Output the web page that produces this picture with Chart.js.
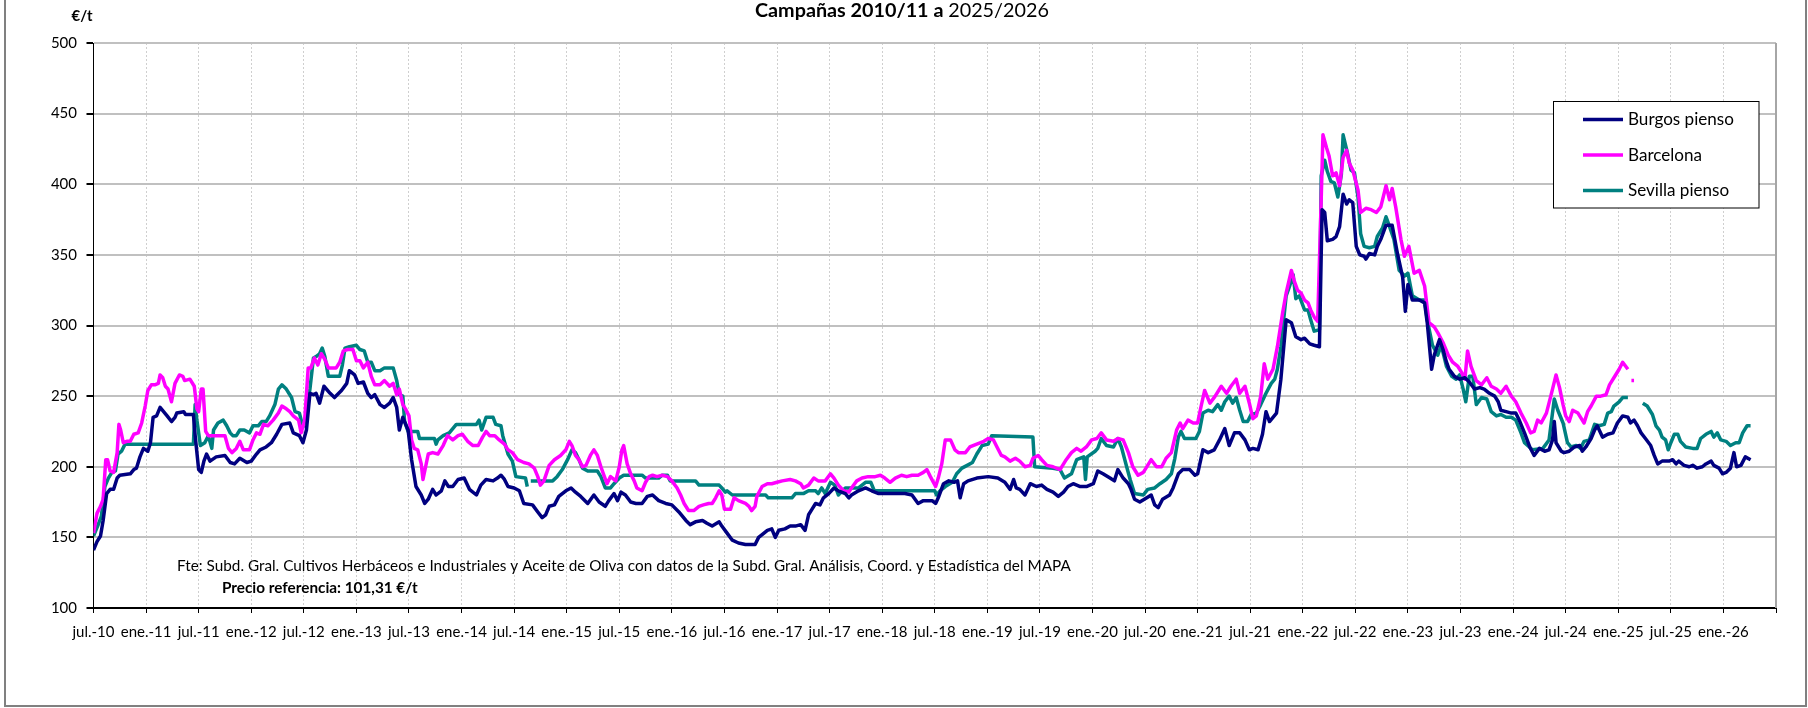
<!DOCTYPE html>
<html lang="es">
<head>
<meta charset="utf-8">
<title>Campañas 2010/11 a 2025/2026</title>
<script src="https://cdn.jsdelivr.net/npm/chart.js@4/dist/chart.umd.min.js"></script>
<style>
  html, body { margin: 0; padding: 0; background: #fff; }
  #wrap { width: 1808px; height: 708px; }
</style>
</head>
<body>
<div id="wrap"><canvas id="preciosChart" width="1808" height="708"></canvas></div>
<script>
// eje x en meses desde jul.-10 (0 = jul.-10, 6 = ene.-11, ...)
const xLabels = ['jul.-10','ene.-11','jul.-11','ene.-12','jul.-12','ene.-13','jul.-13','ene.-14','jul.-14','ene.-15',
  'jul.-15','ene.-16','jul.-16','ene.-17','jul.-17','ene.-18','jul.-18','ene.-19','jul.-19','ene.-20','jul.-20',
  'ene.-21','jul.-21','ene.-22','jul.-22','ene.-23','jul.-23','ene.-24','jul.-24','ene.-25','jul.-25','ene.-26'];
const yTicks = [100, 150, 200, 250, 300, 350, 400, 450, 500];

const seriesNames = ['Burgos pienso', 'Barcelona', 'Sevilla pienso'];
const seriesColors = ['#000080', '#ff00ff', '#008080'];

// [mes, €/t]
const burgos = [[0,141],[0.4,147],[0.8,151],[1.1,162],[1.5,181],[1.9,184],[2.3,184],[2.7,192],[3.0,194],[4.2,195],[4.6,198],[4.9,199],
  [5.3,207],[5.7,213],[6.2,211],[6.5,217],[6.8,235],[7.2,236],[7.6,242],[8.0,239],[8.4,236],[8.9,232],[9.3,235],[9.5,238],[10.3,239],
  [10.5,237],[11.4,237],[11.6,222],[12.0,198],[12.3,196],[12.6,204],[12.9,209],[13.3,204],[14.0,207],[15.0,208],[15.6,203],[16.1,202],
  [16.7,206],[17.5,203],[18.0,204],[18.6,209],[19.0,212],[19.7,214],[20.3,217],[20.9,223],[21.5,230],[22.4,231],[22.8,224],[23.5,222],
  [23.9,217],[24.3,226],[24.7,252],[25.1,251],[25.4,252],[25.8,245],[26.3,257],[27.0,252],[27.5,249],[28.3,254],[28.9,259],[29.2,268],
  [29.8,265],[30.2,259],[30.8,260],[31.3,252],[31.7,249],[32.1,251],[32.7,244],[33.2,242],[33.8,245],[34.2,249],[34.6,242],[34.9,226],
  [35.3,235],[35.9,226],[36.3,205],[36.8,186],[37.4,180],[37.8,174],[38.2,177],[38.7,184],[39.1,180],[39.7,183],[40.1,190],[40.5,186],
  [41.0,186],[41.6,191],[42.3,192],[42.9,184],[43.7,180],[44.2,187],[44.8,191],[45.6,190],[46.1,192],[46.5,194],[46.9,191],[47.3,186],
  [48.0,185],[48.6,183],[49.1,174],[50.1,173],[50.7,168],[51.2,164],[51.6,166],[52.0,172],[52.6,173],[53.1,179],[53.9,183],[54.5,185],
  [55.0,182],[55.6,179],[56.4,174],[57.1,180],[57.7,175],[58.4,172],[58.8,176],[59.4,181],[59.8,176],[60.2,182],[60.7,180],[61.3,175],
  [61.9,174],[62.6,174],[63.2,179],[63.8,180],[64.5,176],[65.3,174],[66.0,173],[66.8,168],[67.6,162],[68.1,159],[68.7,161],[69.5,162],
  [70.0,160],[70.6,158],[71.4,161],[71.7,158],[72.3,153],[72.9,148],[73.6,146],[74.4,145],[75.5,145],[75.9,150],[76.3,152],[76.9,155],
  [77.4,156],[77.8,150],[78.2,155],[78.9,156],[79.5,158],[80.1,158],[80.7,159],[81.2,155],[81.6,166],[82.0,170],[82.4,174],[82.9,173],
  [83.3,178],[83.9,181],[84.5,185],[85.0,183],[85.8,181],[86.2,178],[86.5,180],[87.3,183],[88.1,185],[88.8,183],[89.6,181],[91.5,181],
  [92.6,181],[93.4,180],[94.1,174],[94.7,176],[95.7,176],[96.1,174],[96.4,178],[97.0,188],[97.6,190],[98.2,189],[98.6,190],[98.9,178],
  [99.3,188],[99.8,190],[100.8,192],[102.1,193],[103.2,192],[104.0,189],[104.6,184],[105.0,191],[105.3,185],[105.7,184],[106.3,180],
  [106.9,188],[107.6,186],[108.2,187],[108.8,184],[109.5,182],[110.1,179],[110.7,182],[111.2,186],[111.8,188],[112.6,186],[113.3,186],
  [114.1,188],[114.6,197],[115.2,195],[116.0,192],[116.5,190],[116.9,198],[117.5,192],[118.1,188],[118.4,184],[118.8,177],[119.4,175],
  [120.2,178],[120.7,180],[121.1,173],[121.5,171],[122.0,177],[122.8,180],[123.2,185],[123.8,195],[124.3,198],[125.1,198],[125.7,194],
  [126.0,195],[126.6,212],[127.2,210],[127.9,212],[128.5,219],[129.1,227],[129.6,215],[130.2,224],[130.8,224],[131.4,219],[131.9,212],
  [132.3,213],[132.9,212],[133.4,223],[133.8,239],[134.2,232],[135.0,238],[135.5,262],[136.1,304],[136.7,302],[137.2,292],[137.8,290],
  [138.2,291],[138.8,287],[139.3,286],[139.9,285],[140.2,382],[140.5,380],[140.8,360],[141.4,361],[141.8,363],[142.2,370],[142.6,393],
  [143.0,386],[143.3,389],[143.7,387],[144.1,356],[144.5,350],[145.0,349],[145.2,347],[145.6,351],[146.2,350],[146.5,356],[146.9,361],
  [147.5,371],[148.2,371],[148.8,351],[149.4,334],[149.7,310],[150.0,329],[150.5,318],[151.3,318],[151.9,316],[152.2,302],[152.7,269],
  [153.0,279],[153.6,290],[154.0,283],[154.4,274],[154.7,269],[155.3,264],[155.9,262],[156.5,263],[157.0,260],[157.6,255],[158.2,256],
  [158.7,255],[159.3,252],[159.9,250],[160.3,246],[160.6,240],[161.2,239],[161.8,238],[162.3,238],[162.7,233],[163.3,224],[163.9,214],
  [164.4,208],[165.0,213],[165.6,211],[166.1,212],[166.5,219],[166.7,232],[166.9,217],[167.5,211],[167.8,210],[168.4,211],[169.0,214],
  [169.6,215],[169.9,211],[170.3,214],[170.9,220],[171.3,226],[171.6,229],[172.2,221],[172.8,223],[173.4,224],[173.9,231],[174.5,236],
  [175.1,235],[175.4,231],[175.8,233],[176.2,229],[176.6,224],[177.1,220],[177.7,215],[178.1,208],[178.5,202],[179.0,204],[179.8,204],
  [180.2,205],[180.6,202],[180.9,204],[181.5,201],[182.1,200],[182.5,201],[183.0,199],[183.6,200],[184.0,202],[184.6,204],[184.9,201],
  [185.5,199],[185.9,195],[186.3,196],[186.8,199],[187.2,210],[187.5,200],[188.0,201],[188.5,207],[189.1,205]];

const barcelona = [[0,153],[0.4,167],[0.8,172],[1.1,177],[1.4,205],[1.6,205],[1.9,197],[2.3,196],[2.7,210],[2.9,230],[3.1,226],[3.4,217],
  [3.8,218],[4.2,218],[4.6,223],[5.1,224],[5.5,231],[5.9,243],[6.2,254],[6.6,258],[7.0,258],[7.4,259],[7.6,265],[7.9,263],[8.2,257],
  [8.5,255],[8.9,246],[9.3,259],[9.8,265],[10.2,264],[10.4,261],[11.0,262],[11.5,257],[11.8,241],[12.0,239],[12.3,255],[12.5,255],
  [12.8,225],[13.1,222],[13.7,222],[14.4,222],[15.0,222],[15.4,213],[15.8,210],[16.3,213],[16.7,218],[17.1,212],[17.8,212],[18.2,219],
  [18.6,224],[19.0,223],[19.4,230],[19.9,229],[20.5,233],[21.1,238],[21.5,243],[22.0,241],[22.4,239],[22.8,236],[23.4,233],[23.7,224],
  [24.1,233],[24.5,270],[24.8,270],[25.2,277],[25.6,272],[26.0,280],[26.4,276],[26.8,270],[27.2,270],[27.7,270],[28.1,274],[28.5,282],
  [29.0,283],[29.6,283],[30.0,275],[30.4,275],[30.8,270],[31.3,274],[31.7,264],[32.1,258],[32.7,258],[33.2,261],[33.8,257],[34.2,259],
  [34.6,251],[34.9,255],[35.3,244],[35.6,241],[36.0,236],[36.3,219],[36.6,213],[37.0,212],[37.4,202],[37.6,191],[38.0,203],[38.2,209],
  [38.7,210],[39.3,209],[39.9,215],[40.4,222],[41.0,219],[41.6,222],[42.1,223],[42.7,218],[43.3,215],[43.9,215],[44.4,221],[44.8,225],
  [45.2,222],[45.8,222],[46.3,219],[46.9,216],[47.3,212],[47.8,210],[48.4,205],[49.1,203],[49.7,202],[50.3,199],[50.7,193],[51.0,187],
  [51.4,190],[52.0,201],[52.6,205],[53.3,208],[53.9,212],[54.3,218],[54.6,215],[55.0,208],[55.4,205],[55.8,200],[56.2,201],[56.7,208],
  [57.1,212],[57.5,208],[57.9,200],[58.3,193],[58.6,188],[59.0,193],[59.6,190],[60.0,200],[60.3,212],[60.5,215],[60.9,202],[61.3,195],
  [61.7,190],[62.0,185],[62.6,183],[63.0,189],[63.4,193],[63.8,194],[64.3,193],[64.9,194],[65.5,193],[66.0,190],[66.6,185],[67.0,180],
  [67.4,174],[67.9,169],[68.5,169],[69.1,172],[69.6,173],[70.2,174],[70.6,174],[71.0,178],[71.4,183],[71.7,180],[72.0,170],[72.7,170],
  [73.1,178],[73.6,176],[74.4,174],[74.8,172],[75.1,169],[75.5,172],[75.7,179],[76.3,186],[76.9,188],[77.4,188],[78.0,189],[78.6,190],
  [79.5,191],[80.1,190],[80.7,188],[81.0,185],[81.6,187],[82.2,192],[82.7,190],[83.5,190],[84.1,195],[84.5,192],[85.0,187],[85.6,183],
  [86.2,182],[86.5,185],[87.1,190],[87.7,192],[88.4,193],[89.2,193],[89.8,194],[90.3,192],[90.9,189],[91.5,192],[92.2,194],[92.8,193],
  [93.4,194],[94.1,194],[94.7,196],[95.1,198],[95.5,193],[96.1,186],[96.4,192],[96.8,202],[97.2,219],[97.8,219],[98.3,212],[98.7,210],
  [99.5,210],[100.0,214],[100.8,216],[101.6,218],[102.1,220],[102.7,219],[103.1,214],[103.6,208],[104.0,207],[104.6,204],[105.2,206],
  [105.7,204],[106.3,200],[106.9,201],[107.2,206],[107.8,208],[108.2,205],[108.8,201],[109.5,200],[110.3,198],[111.0,205],[111.6,210],
  [112.2,213],[112.7,211],[113.3,214],[113.9,219],[114.5,220],[115.0,224],[115.6,219],[116.4,218],[116.9,220],[117.5,219],[118.1,210],
  [118.6,200],[119.2,194],[119.8,196],[120.3,201],[120.7,205],[121.3,200],[121.9,200],[122.4,206],[123.0,210],[123.6,226],[124.0,231],
  [124.3,227],[124.9,233],[125.5,231],[126.0,231],[126.4,243],[126.8,254],[127.4,245],[128.0,250],[128.7,257],[129.3,252],[129.8,257],
  [130.4,262],[130.8,252],[131.4,257],[131.9,245],[132.3,234],[132.7,236],[133.2,250],[133.6,273],[134.0,262],[134.6,269],[135.1,285],
  [135.7,309],[136.1,323],[136.7,339],[137.0,332],[137.4,325],[137.8,323],[138.2,318],[138.6,316],[138.9,311],[139.3,306],[139.7,303],
  [140.1,389],[140.3,435],[140.7,426],[141.0,420],[141.4,406],[141.8,408],[142.2,399],[142.6,419],[143.0,424],[143.3,415],[143.7,410],
  [144.3,396],[144.6,380],[145.2,383],[145.8,382],[146.4,380],[146.9,384],[147.5,399],[147.9,389],[148.2,397],[148.6,384],[149.2,361],
  [149.6,349],[150.1,356],[150.7,337],[151.3,339],[151.9,328],[152.4,302],[153.0,299],[153.4,295],[154.0,288],[154.6,279],[155.1,274],
  [155.7,271],[156.1,267],[156.5,262],[156.8,282],[157.2,271],[157.8,261],[158.4,258],[159.0,263],[159.5,257],[160.1,255],[160.6,252],
  [161.2,257],[161.8,250],[162.3,246],[162.9,238],[163.5,231],[164.0,224],[164.4,225],[164.8,233],[165.2,231],[165.8,238],[166.3,250],
  [166.9,265],[167.3,256],[167.7,244],[168.0,236],[168.4,232],[168.8,240],[169.4,238],[169.7,235],[170.1,231],[170.5,239],[170.9,243],
  [171.5,250],[172.0,250],[172.6,251],[173.0,258],[173.5,263],[174.1,269],[174.5,274],[175.1,269],[175.3,null],[175.5,261],[175.8,261]];

const sevilla = [[0,151],[0.6,160],[0.9,165],[1.3,186],[1.7,192],[2.1,196],[2.5,197],[2.8,209],[3.2,211],[3.6,216],[11.4,216],[11.6,244],
  [11.8,233],[12.2,215],[12.7,217],[13.1,222],[13.5,213],[13.7,226],[14.2,231],[14.8,233],[15.2,229],[15.6,224],[15.9,222],[16.3,222],
  [16.7,226],[17.2,226],[17.8,224],[18.2,229],[18.8,229],[19.2,232],[19.7,232],[20.1,236],[20.7,244],[21.1,255],[21.5,258],[22.0,255],
  [22.6,249],[23.0,239],[23.5,238],[23.9,228],[24.3,238],[24.7,255],[25.1,277],[25.4,278],[25.8,280],[26.1,284],[26.4,278],[26.8,264],
  [28.1,264],[28.4,272],[28.7,284],[29.2,285],[30.0,286],[30.4,283],[30.9,282],[31.3,274],[31.7,274],[32.1,268],[32.7,268],[33.2,270],
  [34.2,270],[34.6,261],[34.9,251],[35.3,250],[35.5,232],[35.9,225],[37.0,225],[37.2,220],[38.9,220],[39.1,216],[39.3,219],[39.9,222],
  [40.6,224],[41.4,230],[43.7,230],[44.0,233],[44.3,226],[44.8,235],[45.6,235],[45.9,230],[46.5,229],[46.7,222],[47.3,209],[47.8,204],
  [48.2,193],[49.3,192],[49.5,186],[49.7,null],[49.9,190],[52.4,190],[52.9,193],[53.5,198],[54.1,205],[54.6,212],[55.0,210],[55.4,205],
  [55.8,199],[56.4,197],[57.5,197],[57.9,193],[58.4,185],[59.0,185],[59.4,188],[60.0,192],[60.5,194],[62.6,194],[63.0,192],[64.5,192],
  [64.9,194],[65.5,194],[65.8,190],[68.7,190],[69.1,187],[71.4,187],[71.7,185],[72.1,182],[72.3,183],[72.9,180],[76.7,180],[77.0,178],
  [79.7,178],[80.1,181],[81.0,181],[81.6,183],[82.4,183],[82.7,181],[83.1,185],[83.5,181],[84.1,189],[84.6,187],[85.0,180],[85.8,185],
  [87.3,185],[88.1,189],[88.7,189],[89.1,183],[96.0,183],[96.2,180],[96.6,183],[97.2,186],[98.0,189],[98.5,195],[99.1,199],[99.7,201],
  [100.3,203],[100.8,209],[101.4,215],[102.1,216],[102.5,222],[107.2,221],[107.4,200],[109.5,199],[110.3,198],[110.8,192],[111.6,195],
  [112.2,205],[113.0,207],[113.2,191],[113.4,207],[114.3,211],[114.6,213],[115.0,220],[115.6,215],[116.4,214],[116.9,220],[117.3,214],
  [117.9,200],[118.3,191],[118.8,181],[119.8,180],[120.3,184],[121.1,185],[121.7,188],[122.4,191],[123.0,195],[123.4,206],[123.8,221],
  [124.1,225],[124.5,220],[125.8,220],[126.2,225],[126.6,238],[127.2,240],[127.7,239],[128.3,244],[128.7,240],[129.1,246],[129.6,250],
  [130.0,245],[130.4,249],[130.8,240],[131.2,232],[131.7,232],[132.1,237],[132.7,238],[133.2,244],[133.8,252],[134.4,259],[134.8,262],
  [135.1,269],[135.5,285],[136.1,321],[136.5,328],[136.9,336],[137.2,319],[137.6,321],[138.2,311],[138.6,311],[138.9,304],[139.3,296],
  [139.9,297],[140.1,406],[140.5,417],[140.8,409],[141.2,402],[141.6,401],[142.0,391],[142.4,407],[142.6,435],[143.1,422],[143.5,410],
  [143.9,408],[144.3,391],[144.6,365],[145.0,356],[145.6,355],[146.2,356],[146.5,363],[147.1,369],[147.5,377],[147.9,370],[148.4,361],
  [149.0,339],[149.6,335],[150.0,337],[150.5,321],[151.3,318],[151.9,318],[152.2,304],[152.8,286],[153.4,279],[153.8,286],[154.4,271],
  [155.0,264],[155.5,262],[155.9,265],[156.3,255],[156.6,246],[157.0,264],[157.4,264],[157.8,244],[158.4,249],[159.0,248],[159.5,239],
  [160.1,236],[160.6,237],[161.2,235],[161.8,235],[162.3,233],[162.9,224],[163.3,217],[164.2,212],[165.4,213],[166.1,219],[166.7,248],
  [167.1,240],[167.7,231],[168.2,217],[168.6,214],[169.2,215],[169.7,213],[170.1,218],[170.7,219],[171.3,230],[171.8,229],[172.4,230],
  [172.8,238],[173.2,239],[173.5,243],[174.1,246],[174.5,249],[175.1,249],[176.0,null],[176.8,245],[177.3,243],[177.9,237],[178.3,229],
  [178.7,226],[179.0,221],[179.4,219],[179.7,212],[180.0,217],[180.4,223],[180.8,223],[181.1,218],[181.7,214],[182.5,213],[183.0,213],
  [183.4,220],[184.0,223],[184.6,225],[184.9,221],[185.3,224],[185.7,219],[186.3,218],[186.8,215],[187.4,217],[187.8,217],[188.2,224],
  [188.7,229],[189.1,229]];

const FONT = 'Lato, "Open Sans", sans-serif';

function toPoints(arr) {
  return arr.map(([x, y]) => ({ x, y }));
}

// tamaño de letra para que el texto ocupe el ancho medido en el original
function fitSize(ctx, text, weight, width) {
  ctx.font = weight + ' 20px ' + FONT;
  return 20 * width / ctx.measureText(text).width;
}

// textos, leyenda y marco dibujados a mano
const decor = {
  id: 'decor',
  afterDraw(chart) {
    const ctx = chart.ctx;
    const area = chart.chartArea;
    ctx.save();

    // marco exterior
    ctx.strokeStyle = '#808080';
    ctx.lineWidth = 2;
    ctx.strokeRect(5, -4, 1801, 710);

    // borde derecho del area de trazado
    ctx.strokeStyle = '#a6a6a6';
    ctx.lineWidth = 2;
    ctx.beginPath();
    ctx.moveTo(area.right, area.top);
    ctx.lineTo(area.right, area.bottom);
    ctx.stroke();

    // titulo
    ctx.fillStyle = '#000';
    ctx.textBaseline = 'middle';
    ctx.textAlign = 'left';
    const t1 = 'Campañas 2010/11 a ';
    const t2 = '2025/2026';
    ctx.font = 'bold 20px ' + FONT;
    const a1 = ctx.measureText(t1).width;
    ctx.font = 'normal 20px ' + FONT;
    const a2 = ctx.measureText(t2).width;
    const ts = 20 * 294 / (a1 + a2);
    ctx.font = 'bold ' + ts + 'px ' + FONT;
    const w1 = ctx.measureText(t1).width;
    ctx.fillText(t1, 755, 11);
    ctx.font = 'normal ' + ts + 'px ' + FONT;
    ctx.fillText(t2, 755 + w1, 11);

    // unidad
    ctx.font = 'bold 15px ' + FONT;
    ctx.textAlign = 'center';
    ctx.fillText('€/t', 82, 16);

    // fuente y precio de referencia
    ctx.textAlign = 'left';
    const fuente = 'Fte: Subd. Gral. Cultivos Herbáceos e Industriales y Aceite de Oliva con datos de la Subd. Gral. Análisis, Coord. y Estadística del MAPA';
    ctx.font = 'normal ' + fitSize(ctx, fuente, 'normal', 894) + 'px ' + FONT;
    ctx.fillText(fuente, 177, 566);
    const precio = 'Precio referencia: 101,31 €/t';
    ctx.font = 'bold ' + fitSize(ctx, precio, 'bold', 196) + 'px ' + FONT;
    ctx.fillText(precio, 222, 588);

    // leyenda
    ctx.fillStyle = '#fff';
    ctx.fillRect(1553.5, 101.5, 205.5, 106.5);
    ctx.strokeStyle = '#000';
    ctx.lineWidth = 1;
    ctx.strokeRect(1553.5, 101.5, 205.5, 106.5);
    const rowsY = [119.5, 155, 190.5];
    const ls = fitSize(ctx, seriesNames[0], 'normal', 106);
    chart.data.datasets.forEach((ds, i) => {
      ctx.strokeStyle = ds.borderColor;
      ctx.lineWidth = 3.5;
      ctx.beginPath();
      ctx.moveTo(1583, rowsY[i]);
      ctx.lineTo(1623, rowsY[i]);
      ctx.stroke();
      ctx.fillStyle = '#000';
      ctx.font = 'normal ' + ls + 'px ' + FONT;
      ctx.fillText(ds.label, 1628, rowsY[i]);
    });
    ctx.restore();
  }
};

const ctx = document.getElementById('preciosChart').getContext('2d');
const preciosChart = new Chart(ctx, {
  type: 'line',
  data: {
    datasets: [
      { label: seriesNames[0], data: toPoints(burgos), borderColor: seriesColors[0] },
      { label: seriesNames[1], data: toPoints(barcelona), borderColor: seriesColors[1] },
      { label: seriesNames[2], data: toPoints(sevilla), borderColor: seriesColors[2] }
    ]
  },
  options: {
    responsive: false,
    devicePixelRatio: 1,
    animation: false,
    spanGaps: false,
    layout: { padding: { left: 5, right: 32, top: 43, bottom: 0 } },
    elements: {
      point: { radius: 0 },
      line: { borderWidth: 3.5, tension: 0, borderJoinStyle: 'round' }
    },
    plugins: {
      legend: { display: false },
      tooltip: { enabled: false }
    },
    scales: {
      x: {
        type: 'linear',
        min: 0,
        max: 192,
        afterFit: s => { s.height = 100; },
        afterBuildTicks: s => { s.ticks = xLabels.concat(['']).map((_, i) => ({ value: i * 6 })); },
        ticks: {
          autoSkip: false,
          maxRotation: 0,
          padding: 10,
          color: '#000',
          font: { family: FONT, size: 15 },
          callback: v => xLabels[Math.round(v / 6)] || ''
        },
        grid: { color: '#cfcfcf', lineWidth: 1, tickLength: 5, tickColor: '#000' },
        border: { color: '#000', width: 2, dash: [2, 2] }
      },
      y: {
        min: 100,
        max: 500,
        afterFit: s => { s.width = 88.5; },
        afterBuildTicks: s => { s.ticks = yTicks.map(v => ({ value: v })); },
        ticks: {
          padding: 9.5,
          color: '#000',
          font: { family: FONT, size: 15 }
        },
        grid: { color: '#c0c0c0', lineWidth: 2, tickLength: 7, tickColor: '#000' },
        border: { color: '#000', width: 1 }
      }
    }
  },
  plugins: [decor]
});
</script>
</body>
</html>
